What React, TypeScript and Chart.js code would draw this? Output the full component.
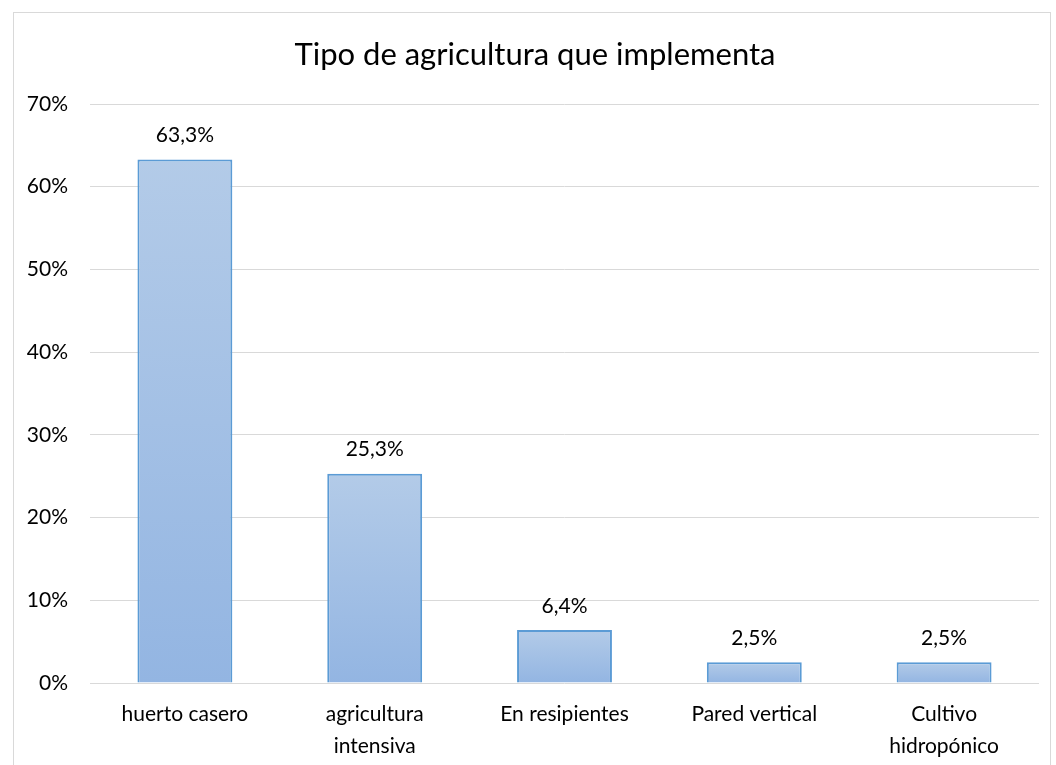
import React, { useEffect, useRef } from "react";
import { Chart, registerables } from "chart.js";

Chart.register(...registerables);

const TITLE = "Tipo de agricultura que implementa";
const categories: (string | string[])[] = [
  "huerto casero",
  ["agricultura", "intensiva"],
  "En resipientes",
  "Pared vertical",
  ["Cultivo", "hidropónico"],
];
const values = [63.3, 25.3, 6.4, 2.5, 2.5];
const yTicksMax = 70;
const yTickStep = 10;

const FONT = "Lato, 'Open Sans', sans-serif";

export default function App() {
  const ref = useRef<HTMLCanvasElement | null>(null);

  useEffect(() => {
    const canvas = ref.current;
    if (!canvas) return;

    const titlePlugin = {
      id: "customTitle",
      afterDraw(chart: any) {
        const c = chart.ctx;
        c.save();
        c.font = `31px ${FONT}`;
        c.fillStyle = "#000";
        c.textAlign = "center";
        c.textBaseline = "middle";
        c.fillText(TITLE, 535, 55);
        c.restore();
      },
    };

    const labelPlugin = {
      id: "valueLabels",
      afterDatasetsDraw(chart: any) {
        const c = chart.ctx;
        const meta = chart.getDatasetMeta(0);
        c.save();
        c.font = `21px ${FONT}`;
        c.fillStyle = "#000";
        c.textAlign = "center";
        c.textBaseline = "middle";
        meta.data.forEach((bar: any, i: number) => {
          const v = values[i];
          c.fillText(v.toFixed(1).replace(".", ",") + "%", bar.x, bar.y - 24);
        });
        c.restore();
      },
    };

    const chart = new Chart(canvas, {
      type: "bar",
      data: {
        labels: categories,
        datasets: [
          {
            data: values,
            backgroundColor: (ctx: any) => {
              const ch = ctx.chart;
              const ys = ch.scales && ch.scales.y;
              if (!ch.chartArea || !ys || ctx.type !== "data") return "#a5c2e7";
              const top = ys.getPixelForValue(ctx.raw);
              const bottom = ys.getPixelForValue(0);
              if (!isFinite(top) || !isFinite(bottom) || top === bottom) return "#a5c2e7";
              const g = ch.ctx.createLinearGradient(0, top, 0, bottom);
              g.addColorStop(0, "#b3cbe8");
              g.addColorStop(1, "#93b5e2");
              return g;
            },
            borderColor: "#5b9bd5",
            borderWidth: 2,
            barPercentage: 0.5,
            categoryPercentage: 1,
          },
        ],
      },
      options: {
        animation: false,
        responsive: false,
        maintainAspectRatio: false,
        layout: { padding: { top: 104, right: 17, left: 0, bottom: 0 } },
        plugins: {
          legend: { display: false },
          title: { display: false },
          tooltip: { enabled: false },
        },
        scales: {
          x: {
            grid: { display: false, drawTicks: false },
            border: { display: false },
            ticks: {
              color: "#000",
              font: { family: FONT, size: 21, lineHeight: 1.524 },
              padding: 15,
              maxRotation: 0,
              autoSkip: false,
            },
            afterFit(axis: any) {
              axis.height = 82;
            },
          },
          y: {
            min: 0,
            max: yTicksMax,
            grid: { color: "#d9d9d9", lineWidth: 1, drawTicks: false },
            border: { display: false },
            ticks: {
              stepSize: yTickStep,
              color: "#000",
              font: { family: FONT, size: 21 },
              padding: 22,
              callback: (v: any) => `${v}%`,
            },
            afterFit(axis: any) {
              axis.width = 90;
            },
          },
        },
      },
      plugins: [titlePlugin, labelPlugin],
    });

    return () => chart.destroy();
  }, []);

  return (
    <div style={{ position: "fixed", left: 0, top: 0, width: 1056, height: 765, background: "#fff" }}>
      <canvas ref={ref} width={1056} height={765} style={{ display: "block", width: 1056, height: 765 }} />
      <div
        style={{
          position: "absolute",
          left: 13,
          top: 12,
          width: 1036,
          height: 760,
          borderTop: "1px solid #d9d9d9",
          borderLeft: "1px solid #d9d9d9",
          borderRight: "1px solid #d9d9d9",
          pointerEvents: "none",
        }}
      />
    </div>
  );
}
